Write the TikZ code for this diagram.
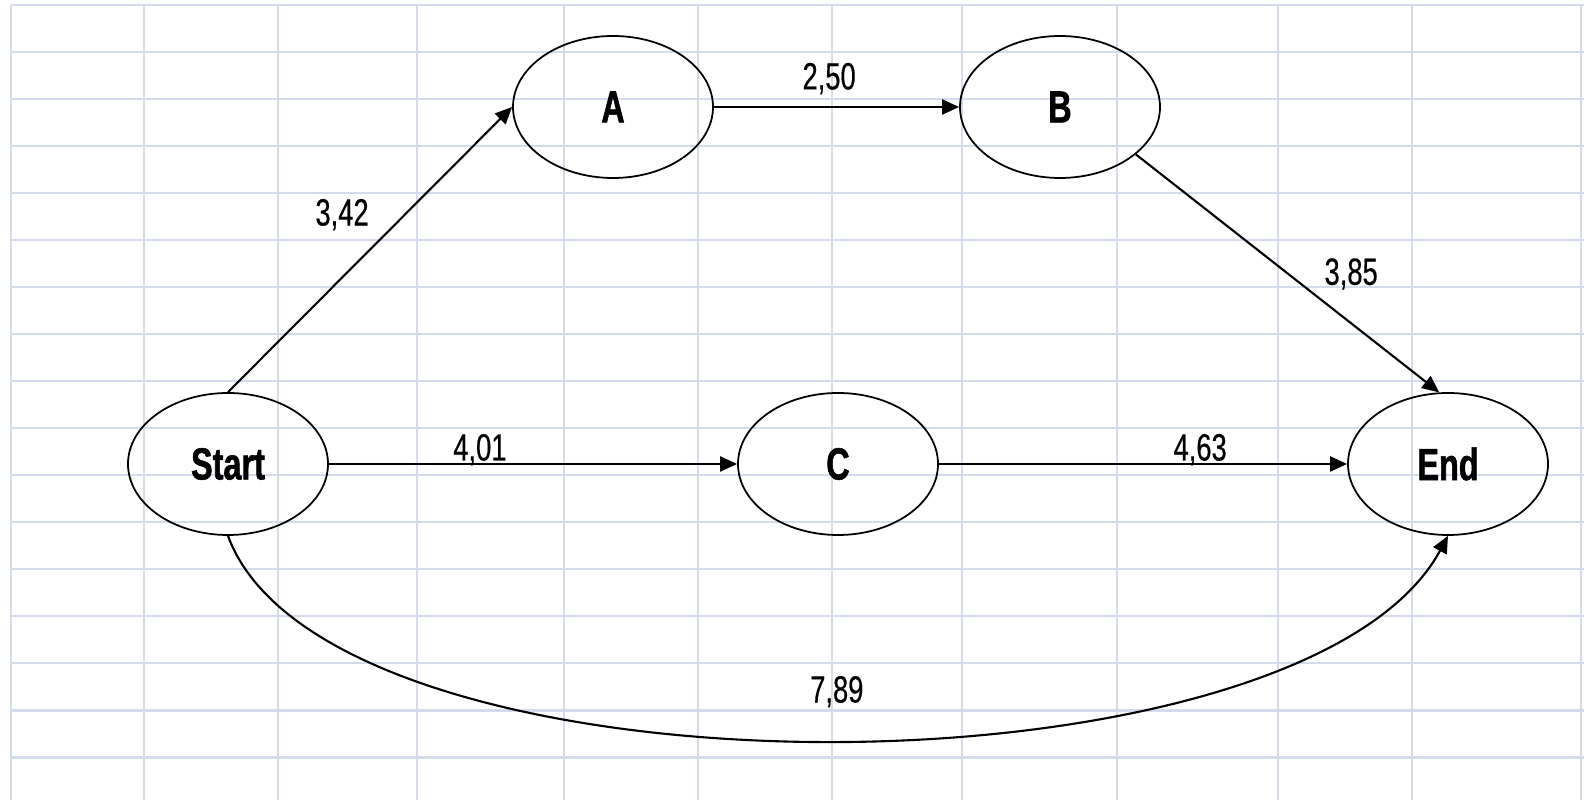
\documentclass[tikz,border=0pt]{standalone}
\usepackage{fontspec}
\newfontfamily\narrowsans{Liberation Sans}[FakeStretch=0.72, FakeBold=0.4]
\newfontfamily\narrowbold{Liberation Sans Bold}[FakeStretch=0.72, FakeBold=1.2]
\usepackage{tikz}
\usetikzlibrary{arrows.meta, shapes.geometric}
\definecolor{gridline}{RGB}{212,219,234}

\begin{document}
\begin{tikzpicture}[
				node distance={6.1cm},
				line width=0.6pt,
				stage/.style = {draw, ellipse, line width=0.5pt, minimum width=2cm, minimum height=1.42cm, inner sep=0pt, font=\narrowbold\fontsize{12.8}{14}\selectfont},
				weight/.style = {font=\narrowsans\fontsize{10.8}{12}\selectfont},
				arrow/.style={-{Triangle[length=1.7mm, width=1.5mm]}}
				]
				
				% sheet grid
				\useasboundingbox (0,0) rectangle (15.84,8);
				\foreach \x in {0.11,1.44,2.78,4.17,5.64,6.98,8.32,9.62,11.17,12.78,14.12,15.81}
					\draw[gridline, line width=0.7pt] (\x,0) -- (\x,7.95);
				\foreach \k in {0,...,16}
					\draw[gridline, line width=0.7pt] (0.11,7.95-0.4702*\k) -- (15.84,7.95-0.4702*\k);
				
				\node[stage] (S) at (2.28,3.36) {Start};
				\node[stage] (C) [right of=S] {C};
				\node[stage] (E) [right of=C] {End};
				\node[stage] (A) at (6.13,6.93) {A};
				\node[stage] (B) [right of=A, node distance=4.47cm] {B};
				
				\draw[arrow] (S.north) -- node[weight, pos=0.54, above left, yshift=-0.05cm] {3,42} (A.west);
				\draw[arrow] (A.east) -- node[weight, pos=0.47, above] {2,50} (B.west);
				\draw[arrow] (B.-32) -- node[weight, pos=0.58, above right, yshift=-0.1cm] {3,85} (E.97);
				\draw[arrow] (S.east) -- node[weight, pos=0.37, anchor=base, yshift=1pt] {4,01} (C.west);
				\draw[arrow] (C.east) -- node[weight, pos=0.64, anchor=base, yshift=1pt] {4,63} (E.west);
				\draw[arrow] (S.south) .. controls +(1,-2.73) and +(-1.47,-2.72) .. node[weight, pos=0.51, above=2mm] {7,89} (E.south);
			\end{tikzpicture}
\end{document}
